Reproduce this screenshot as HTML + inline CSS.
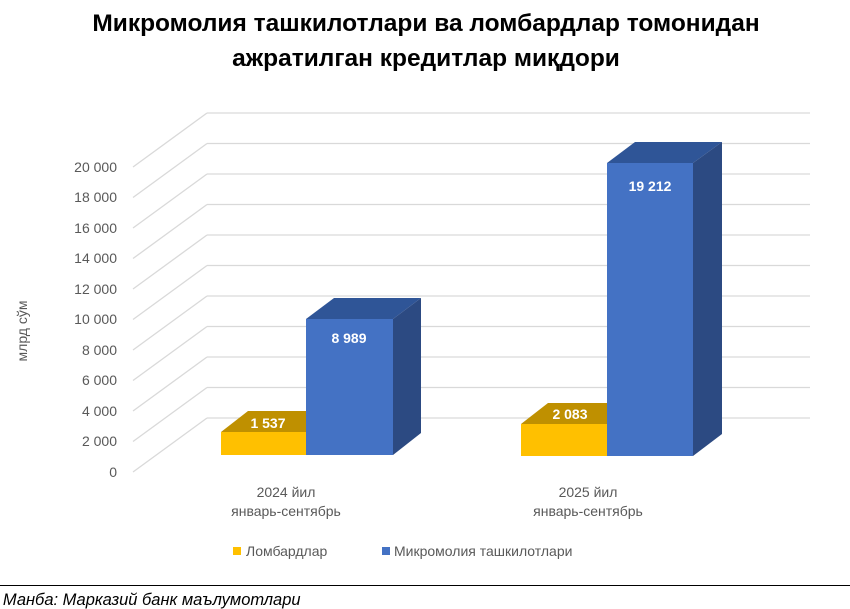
<!DOCTYPE html>
<html><head><meta charset="utf-8"><style>
html,body{margin:0;padding:0;background:#fff;}
svg{display:block;font-family:"Liberation Sans",sans-serif;}
</style></head><body>
<svg width="850" height="609" viewBox="0 0 850 609" xmlns="http://www.w3.org/2000/svg">
<text x="426" y="31" text-anchor="middle" font-size="24.5" font-weight="bold" fill="#000">Микромолия ташкилотлари ва ломбардлар томонидан</text>
<text x="426" y="66" text-anchor="middle" font-size="24.5" font-weight="bold" fill="#000">ажратилган кредитлар миқдори</text>
<g stroke="#D9D9D9" stroke-width="1.3" fill="none">
<g id="gl">
<line x1="133" y1="472" x2="207" y2="418"/><line x1="207" y1="418" x2="810" y2="418"/>
</g>
<use href="#gl" transform="translate(0,-30.5)"/>
<use href="#gl" transform="translate(0,-61)"/>
<use href="#gl" transform="translate(0,-91.5)"/>
<use href="#gl" transform="translate(0,-122)"/>
<use href="#gl" transform="translate(0,-152.5)"/>
<use href="#gl" transform="translate(0,-183)"/>
<use href="#gl" transform="translate(0,-213.5)"/>
<use href="#gl" transform="translate(0,-244)"/>
<use href="#gl" transform="translate(0,-274.5)"/>
<use href="#gl" transform="translate(0,-305)"/>
</g>
<g font-size="14" fill="#595959" text-anchor="end">
<text x="117" y="477">0</text><text x="117" y="446">2 000</text><text x="117" y="416">4 000</text><text x="117" y="385">6 000</text><text x="117" y="355">8 000</text><text x="117" y="324">10 000</text><text x="117" y="294">12 000</text><text x="117" y="263">14 000</text><text x="117" y="233">16 000</text><text x="117" y="202">18 000</text><text x="117" y="172">20 000</text>
</g>
<text transform="translate(27,331) rotate(-90)" text-anchor="middle" font-size="14" fill="#595959">млрд сўм</text>
<polygon points="221,432 248,411 334,411 306,432" fill="#BF9000"/>
<rect x="221" y="432" width="85" height="23" fill="#FFC000"/>
<polygon points="306,319 334,298 421,298 393,319" fill="#2F5597"/>
<polygon points="393,319 421,298 421,433 393,455" fill="#2C4A82"/>
<rect x="306" y="319" width="87" height="136" fill="#4472C4"/>
<polygon points="521,424 548,403 635,403 607,424" fill="#BF9000"/>
<rect x="521" y="424" width="86" height="32" fill="#FFC000"/>
<polygon points="607,163 635,142 722,142 693,163" fill="#2F5597"/>
<polygon points="693,163 722,142 722,434 693,456" fill="#2C4A82"/>
<rect x="607" y="163" width="86" height="293" fill="#4472C4"/>
<g font-size="14" font-weight="bold" fill="#fff" text-anchor="middle">
<text x="268" y="428">1 537</text><text x="349" y="343">8 989</text>
<text x="570" y="419">2 083</text><text x="650" y="191">19 212</text>
</g>
<g font-size="14" fill="#595959" text-anchor="middle">
<text x="286" y="497">2024 йил</text><text x="286" y="516">январь-сентябрь</text>
<text x="588" y="497">2025 йил</text><text x="588" y="516">январь-сентябрь</text>
</g>
<rect x="233" y="547" width="8" height="8" fill="#FFC000"/>
<text x="246" y="556" font-size="14" fill="#595959">Ломбардлар</text>
<rect x="382" y="547" width="8" height="8" fill="#4472C4"/>
<text x="394" y="556" font-size="14" fill="#595959">Микромолия ташкилотлари</text>
<line x1="0" y1="585.5" x2="850" y2="585.5" stroke="#000" stroke-width="1"/>
<text x="3" y="605" font-size="17" font-style="italic" fill="#000" transform="scale(0.97,1)">Манба: Марказий банк маълумотлари</text>
</svg>
</body></html>
